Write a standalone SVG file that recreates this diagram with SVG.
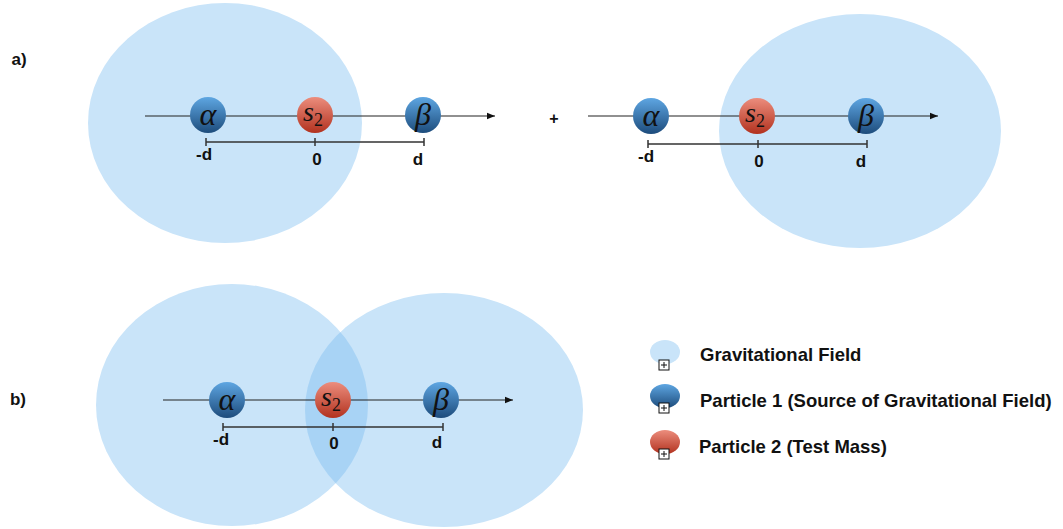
<svg xmlns="http://www.w3.org/2000/svg" width="1063" height="529" viewBox="0 0 1063 529">
<defs>
<linearGradient id="gb" x1="0" y1="0" x2="0" y2="1"><stop offset="0" stop-color="#5ea6e2"/><stop offset="1" stop-color="#1d4c7c"/></linearGradient>
<linearGradient id="gr" x1="0" y1="0" x2="0" y2="1"><stop offset="0" stop-color="#ec8d7d"/><stop offset="1" stop-color="#b2321f"/></linearGradient>
<marker id="ar" viewBox="0 0 10 10" refX="10" refY="5" markerWidth="8" markerHeight="8" markerUnits="userSpaceOnUse" orient="auto"><path d="M0,1 L10,5 L0,9 z" fill="#111"/></marker>
<clipPath id="cl"><ellipse cx="232" cy="405" rx="136" ry="121"/></clipPath>
<style>
.field{fill:#c9e4f9}
.axis{stroke:#222;stroke-width:1.2;fill:none}
.scale{stroke:#333;stroke-width:1.5;fill:none}
.pb{fill:url(#gb)}
.pr{fill:url(#gr)}
.greek{font-family:"Liberation Serif","DejaVu Serif",serif;font-style:italic;font-size:32px;fill:#111;text-anchor:middle}
.sym{font-family:"Liberation Serif",serif;font-style:italic;font-size:28px;fill:#111;text-anchor:middle}
.sub{font-style:normal;font-size:18px}
.lbl{font-family:"Liberation Sans",Arial,sans-serif;font-weight:bold;font-size:17px;fill:#111;text-anchor:middle}
.leg{font-family:"Liberation Sans",Arial,sans-serif;font-weight:bold;font-size:18.5px;fill:#111}
.ico{fill:#fff;stroke:#111;stroke-width:1}
</style>
</defs>

<g id="fields">
<ellipse class="field" cx="225" cy="123" rx="137" ry="120"/>
<ellipse class="field" cx="860" cy="131" rx="141" ry="117"/>
<ellipse class="field" cx="232" cy="405" rx="136" ry="121"/>
<ellipse class="field" cx="444" cy="410" rx="139" ry="117"/>
</g>
<g id="overlap">
<ellipse cx="444" cy="410" rx="139" ry="117" fill="#a8d3f5" clip-path="url(#cl)"/>
</g>

<g id="connectors">
<line class="axis" x1="145" y1="116" x2="495" y2="116" marker-end="url(#ar)"/>
<line class="axis" x1="588" y1="116" x2="938" y2="116" marker-end="url(#ar)"/>
<line class="axis" x1="163" y1="400" x2="513" y2="400" marker-end="url(#ar)"/>
<path class="scale" d="M206 142 H424 M206 138 V146 M315 138 V146 M424 138 V146"/>
<path class="scale" d="M648 144 H867 M648 140 V148 M758 140 V148 M867 140 V148"/>
<path class="scale" d="M223 427 H443 M223 423 V431 M333 423 V431 M443 423 V431"/>
</g>

<text class="lbl" x="19" y="65">a)</text>
<text class="lbl" x="18" y="405">b)</text>
<text class="lbl" x="554" y="124" style="font-size:16px">+</text>

<g id="a-left">
<g id="a1-alpha"><circle class="pb" cx="208" cy="115" r="18"/><text class="greek" x="208" y="125">α</text></g>
<g id="a1-s2"><circle class="pr" cx="315" cy="115" r="18"/><text class="sym" x="313" y="121">s<tspan class="sub" dy="5">2</tspan></text></g>
<g id="a1-beta"><circle class="pb" cx="423" cy="115" r="18"/><text class="greek" x="423" y="125">β</text></g>
<text class="lbl" x="204" y="160">-d</text>
<text class="lbl" x="317" y="165">0</text>
<text class="lbl" x="418" y="165">d</text>
</g>

<g id="a-right">
<g id="a2-alpha"><circle class="pb" cx="651" cy="116" r="18"/><text class="greek" x="651" y="126">α</text></g>
<g id="a2-s2"><circle class="pr" cx="757" cy="116" r="18"/><text class="sym" x="755" y="122">s<tspan class="sub" dy="5">2</tspan></text></g>
<g id="a2-beta"><circle class="pb" cx="866" cy="116" r="18"/><text class="greek" x="866" y="126">β</text></g>
<text class="lbl" x="646" y="162">-d</text>
<text class="lbl" x="759" y="167">0</text>
<text class="lbl" x="861" y="167">d</text>
</g>

<g id="b">
<g id="b-alpha"><circle class="pb" cx="227" cy="400" r="18"/><text class="greek" x="227" y="410">α</text></g>
<g id="b-s2"><circle class="pr" cx="333" cy="400" r="18"/><text class="sym" x="331" y="406">s<tspan class="sub" dy="5">2</tspan></text></g>
<g id="b-beta"><circle class="pb" cx="441" cy="400" r="18"/><text class="greek" x="441" y="410">β</text></g>
<text class="lbl" x="221" y="445">-d</text>
<text class="lbl" x="334" y="449">0</text>
<text class="lbl" x="437" y="448">d</text>
</g>

<g id="legend-field">
<ellipse class="field" cx="665" cy="352" rx="15" ry="12"/>
<rect class="ico" x="659" y="360" width="10" height="10"/><path d="M664 362 V368 M661 365 H667" stroke="#111" stroke-width="1"/>
<text class="leg" x="700" y="361">Gravitational Field</text>
</g>
<g id="legend-p1">
<ellipse class="pb" cx="665" cy="396" rx="15" ry="12"/>
<rect class="ico" x="659" y="403" width="10" height="10"/><path d="M664 405 V411 M661 408 H667" stroke="#111" stroke-width="1"/>
<text class="leg" x="700" y="407">Particle 1 (Source of Gravitational Field)</text>
</g>
<g id="legend-p2">
<ellipse class="pr" cx="665" cy="442" rx="15" ry="12"/>
<rect class="ico" x="659" y="449" width="10" height="10"/><path d="M664 451 V457 M661 454 H667" stroke="#111" stroke-width="1"/>
<text class="leg" x="699" y="453">Particle 2 (Test Mass)</text>
</g>
</svg>
